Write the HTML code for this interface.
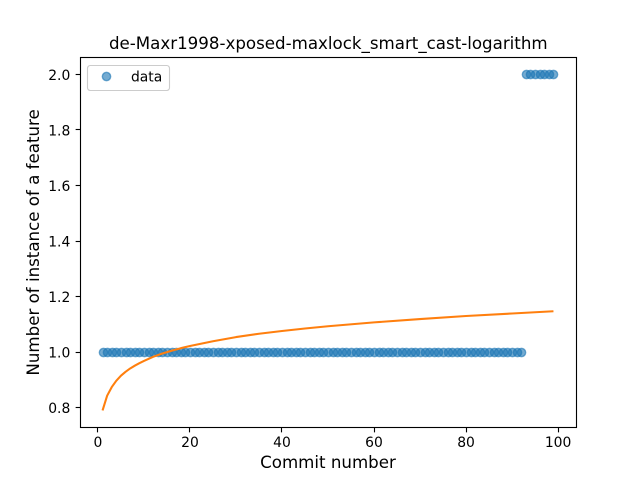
<!DOCTYPE html>
<html>
<head>
<meta charset="utf-8">
<style>
html,body{margin:0;padding:0;background:#fff;}
svg{display:block;}
text{font-family:"DejaVu Sans","Liberation Sans",sans-serif;fill:#000;}
</style>
</head>
<body>
<svg id="chart" width="640" height="480" viewBox="0 0 640 480" xmlns="http://www.w3.org/2000/svg">
<rect x="0" y="0" width="640" height="480" fill="#fff"/>
<text x="328.3" y="49" font-size="16.67" text-anchor="middle">de-Maxr1998-xposed-maxlock_smart_cast-logarithm</text>
<text x="328" y="468" font-size="16.67" text-anchor="middle">Commit number</text>
<text x="0" y="0" font-size="16.67" text-anchor="middle" transform="translate(39 242.4) rotate(-90)">Number of instance of a feature</text>
</svg>
<script>
const commitNumbers = [1,2,3,4,5,6,7,8,9,10,11,12,13,14,15,16,17,18,19,20,21,22,23,24,25,26,27,28,29,30,31,32,33,34,35,36,37,38,39,40,41,42,43,44,45,46,47,48,49,50,51,52,53,54,55,56,57,58,59,60,61,62,63,64,65,66,67,68,69,70,71,72,73,74,75,76,77,78,79,80,81,82,83,84,85,86,87,88,89,90,91,92,93,94,95,96,97,98,99];
const featureCounts = [1,1,1,1,1,1,1,1,1,1,1,1,1,1,1,1,1,1,1,1,1,1,1,1,1,1,1,1,1,1,1,1,1,1,1,1,1,1,1,1,1,1,1,1,1,1,1,1,1,1,1,1,1,1,1,1,1,1,1,1,1,1,1,1,1,1,1,1,1,1,1,1,1,1,1,1,1,1,1,1,1,1,1,1,1,1,1,1,1,1,1,1,2,2,2,2,2,2,2];
const fitCommits = [1,2,3,4,5,6,7,8,9,10,12,14,16,18,20,25,30,35,40,45,50,60,70,80,90,99];
const fitValues = [0.79,0.843,0.874,0.897,0.915,0.929,0.941,0.951,0.96,0.968,0.983,0.995,1.005,1.014,1.022,1.039,1.054,1.066,1.076,1.085,1.093,1.107,1.119,1.13,1.139,1.147];
const xTicks = [0,20,40,60,80,100];
const yTicks = [0.8,1.0,1.2,1.4,1.6,1.8,2.0];
const legendLabels = ['data'];

const NS = 'http://www.w3.org/2000/svg';
const svg = document.getElementById('chart');
const left = 80, right = 576, top_ = 57.6, bottom = 427.2;

const allX = commitNumbers.concat(fitCommits);
const allY = featureCounts.concat(fitValues);
const xLo = Math.min(...allX), xHi = Math.max(...allX);
const yLo = Math.min(...allY), yHi = Math.max(...allY);
const xMin = xLo - (xHi - xLo) * 0.05, xMax = xHi + (xHi - xLo) * 0.05;
const yMin = yLo - (yHi - yLo) * 0.05, yMax = yHi + (yHi - yLo) * 0.05;
function xScale(v){ return left + (v - xMin) / (xMax - xMin) * (right - left); }
function yScale(v){ return bottom - (v - yMin) / (yMax - yMin) * (bottom - top_); }
function make(tag, attrs){
  const el = document.createElementNS(NS, tag);
  for (const k in attrs) el.setAttribute(k, attrs[k]);
  return el;
}
function snap(v){ return Math.floor(v) + 0.5; }
function snapMarker(v){ return Math.floor(v + 0.5) + 0.5; }

const pointsGroup = make('g', {});


svg.appendChild(pointsGroup);
commitNumbers.forEach(function(c, i){
  const dot = make('circle', {cx: snapMarker(xScale(c)), cy: snap(yScale(featureCounts[i])), r: 4.17, fill: '#1f77b4', 'fill-opacity': 0.62, stroke: '#1f77b4', 'stroke-opacity': 0.62, 'stroke-width': 1.39});
  
  
  pointsGroup.appendChild(dot);
});

const fitLine = make('polyline', {points: fitCommits.map(function(c, i){ return xScale(c) + ',' + yScale(fitValues[i]); }).join(' '), fill: 'none', stroke: '#ff7f0e', 'stroke-width': 2.08, 'stroke-linejoin': 'round'});


svg.appendChild(fitLine);

const frame = make('rect', {x: snap(left), y: snap(top_), width: snap(right) - snap(left), height: snap(bottom) - snap(top_), fill: 'none', stroke: '#000', 'stroke-width': 1.11});


svg.appendChild(frame);

xTicks.forEach(function(t){
  const px = snap(xScale(t));
  const tick = make('line', {x1: px, x2: px, y1: snap(bottom), y2: snap(bottom) + 4.86, stroke: '#000', 'stroke-width': 1.11});
  
  
  svg.appendChild(tick);
  const label = make('text', {x: xScale(t), y: 447, 'font-size': 13.89, 'text-anchor': 'middle'});
  
  
  label.textContent = String(t);
  svg.appendChild(label);
});

yTicks.forEach(function(t){
  const py = snap(yScale(t));
  const tick = make('line', {x1: snap(left) - 4.86, x2: snap(left), y1: py, y2: py, stroke: '#000', 'stroke-width': 1.11});
  
  
  svg.appendChild(tick);
  const label = make('text', {x: 70.3, y: yScale(t) + 5.5, 'font-size': 13.89, 'text-anchor': 'end'});
  
  
  label.textContent = t.toFixed(1);
  svg.appendChild(label);
});

const legend = make('g', {});


svg.appendChild(legend);
const legendBox = make('rect', {x: 87.5, y: 65.5, width: 82, height: 25, rx: 2.8, ry: 2.8, fill: '#fff', 'fill-opacity': 0.8, stroke: '#ccc', 'stroke-width': 1.11});


legend.appendChild(legendBox);
const legendMarker = make('circle', {cx: 106.5, cy: 76.5, r: 4.17, fill: '#1f77b4', 'fill-opacity': 0.62, stroke: '#1f77b4', 'stroke-opacity': 0.62, 'stroke-width': 1.39});


legend.appendChild(legendMarker);
const legendText = make('text', {x: 131, y: 81.5, 'font-size': 13.89});


legendText.textContent = legendLabels[0];
legend.appendChild(legendText);
</script>
</body>
</html>
